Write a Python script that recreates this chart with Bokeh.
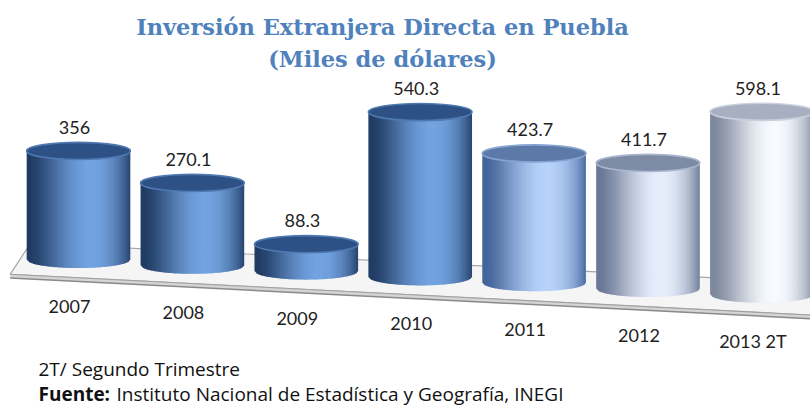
import math
from bokeh.plotting import figure
from bokeh.models import Range1d, Label, ColumnDataSource
from bokeh.core.properties import value
from bokeh.embed import file_html
from bokeh.resources import INLINE

# ---------------- data ----------------
categories = ["2007", "2008", "2009", "2010", "2011", "2012", "2013 2T"]
values = [356, 270.1, 88.3, 540.3, 423.7, 411.7, 598.1]
value_labels = ["356", "270.1", "88.3", "540.3", "423.7", "411.7", "598.1"]
title_line1 = "Inversión Extranjera Directa en Puebla"
title_line2 = "(Miles de dólares)"
note_line = "2T/ Segundo Trimestre"
source_bold = "Fuente:"
source_text = "Instituto Nacional de Estadística y Geografía, INEGI"

# ---------------- styles ----------------
dark_cols = ["#203c64", "#203c64", "#203c64", "#203c64", "#45659a", "#6a7895", "#7f899d"]
light_cols = ["#72a2e0", "#72a2e0", "#72a2e0", "#72a2e0", "#b6d2fa", "#e6eefc", "#f7faff"]
top_cols = ["#2d5184", "#2d5184", "#2d5184", "#2d5184", "#5c79a8", "#7e8ba5", "#a7afc0"]
rim_cols = ["#4f79b2", "#4f79b2", "#4f79b2", "#4f79b2", "#86a3d2", "#a9b6cf", "#c9d0dc"]

W, H = 810, 405
X0_PX, PX_PER_CAT = 78.0, 113.9      # layout of the category axis
Y0_PX, PX_PER_UNIT = 259.0, 0.305     # layout of the value axis
SLOPE = 19.0                          # perspective drop of the floor per category (value units)
CYL_W = 0.91                          # cylinder width, category units
ELL_H = 56.0                          # ellipse height, value units
N_STRIPS = 48
TXT_SHIFT = 7                         # px correction for text baseline

x_start = -X0_PX / PX_PER_CAT
x_end = (W - X0_PX) / PX_PER_CAT
y_end = Y0_PX / PX_PER_UNIT
y_start = (Y0_PX - H) / PX_PER_UNIT


def px_x(px):
    return x_start + px / PX_PER_CAT


def px_y(py):
    return (Y0_PX - py) / PX_PER_UNIT


def base(x):
    return -SLOPE * x


def hex2rgb(h):
    h = h.lstrip("#")
    return [int(h[i:i + 2], 16) for i in (0, 2, 4)]


def mix(c1, c2, f):
    a, b = hex2rgb(c1), hex2rgb(c2)
    return "#%02x%02x%02x" % tuple(int(round(a[k] + (b[k] - a[k]) * f)) for k in range(3))


p = figure(width=W, height=H, output_backend="svg", toolbar_location=None,
           x_range=Range1d(x_start, x_end), y_range=Range1d(y_start, y_end),
           min_border=0, min_border_left=0, min_border_right=0,
           min_border_top=0, min_border_bottom=0)
p.axis.visible = False
p.grid.visible = False
p.outline_line_color = None
p.background_fill_color = "white"
p.border_fill_color = "white"

# ---------------- floor ----------------
fx_back_l, fx_front_l, fx_r = -0.42, -0.60, 6.8
back_off, front_off, slab = 46.0, -60.0, 12.0
floor_x = [fx_back_l, fx_r, fx_r, fx_front_l]
floor_y = [base(fx_back_l) + back_off, base(fx_r) + back_off,
           base(fx_r) + front_off, base(fx_front_l) + front_off]
p.patch(floor_x, floor_y, fill_color="#f5f5f5", line_color="#a6a6a6", line_width=1.2)
slab_x = [fx_front_l, fx_r, fx_r, fx_front_l]
slab_y = [base(fx_front_l) + front_off, base(fx_r) + front_off,
          base(fx_r) + front_off - slab, base(fx_front_l) + front_off - slab]
p.patch(slab_x, slab_y, fill_color="#d4d4d4", line_color=None)
p.line([fx_front_l, fx_r], [base(fx_front_l) + front_off - slab, base(fx_r) + front_off - slab],
       line_color="#8a8a8a", line_width=1.5)
p.line([fx_front_l, fx_r], [base(fx_front_l) + front_off, base(fx_r) + front_off],
       line_color="#a0a0a0", line_width=1)

# ---------------- cylinders ----------------
LIGHT_ANGLE = 0.25
for i, v in enumerate(values):
    b = base(i)
    left = i - CYL_W / 2
    xs, ys, cols = [], [], []
    sw = CYL_W / N_STRIPS

    def bot(xx, i=i, b=b):
        u = (xx - i) / (CYL_W / 2)
        u = max(-1.0, min(1.0, u))
        return b - ELL_H / 2 * math.sqrt(max(0.0, 1 - u * u))

    for k in range(N_STRIPS):
        xl = left + k * sw
        xr = min(left + CYL_W, xl + sw * 1.35)
        t_mid = (k + 0.5) / N_STRIPS
        u = 2 * t_mid - 1
        phi = math.asin(u)
        f = max(0.0, math.cos(phi - LIGHT_ANGLE)) ** 2.6
        cols.append(mix(dark_cols[i], light_cols[i], f))
        xs.append([xl, xr, xr, xl])
        ys.append([bot(xl), bot(xr), b + v, b + v])
    p.patches(xs, ys, fill_color=cols, line_color=None)
    p.ellipse(x=[i], y=[b + v], width=CYL_W, height=ELL_H,
              fill_color=top_cols[i], line_color=rim_cols[i], line_width=1.6)

# ---------------- value labels ----------------
lab_src = ColumnDataSource(dict(
    x=list(range(len(values))),
    y=[base(i) + v + ELL_H / 2 + (8 + TXT_SHIFT) / PX_PER_UNIT for i, v in enumerate(values)],
    t=value_labels))
p.text(x="x", y="y", text="t", source=lab_src, text_align="center",
       text_baseline="alphabetic", text_font=value("Lato"), text_font_size="18px",
       text_color="#222222", x_offset=-4)

cat_src = ColumnDataSource(dict(
    x=list(range(len(categories))),
    y=[base(i) - (54 - TXT_SHIFT) / PX_PER_UNIT for i in range(len(categories))],
    t=categories))
p.text(x="x", y="y", text="t", source=cat_src, text_align="center",
       text_baseline="alphabetic", text_font=value("Lato"), text_font_size="18px",
       text_color="#222222", x_offset=-9)

# ---------------- titles / notes ----------------
for txt, py in ((title_line1, 33), (title_line2, 65)):
    p.add_layout(Label(x=px_x(382), y=px_y(py - TXT_SHIFT), text=txt, text_align="center",
                       text_baseline="alphabetic", text_font="DejaVu Serif",
                       text_font_style="bold", text_font_size="22.5px",
                       text_color="#4f81bd"))

p.add_layout(Label(x=px_x(38), y=px_y(375 - TXT_SHIFT), text=note_line, text_baseline="alphabetic",
                   text_font="Open Sans", text_font_size="19px", text_color="#111111"))
p.add_layout(Label(x=px_x(38), y=px_y(400 - TXT_SHIFT), text=source_bold, text_baseline="alphabetic",
                   text_font="Open Sans", text_font_style="bold", text_font_size="19px",
                   text_color="#111111"))
p.add_layout(Label(x=px_x(116), y=px_y(400 - TXT_SHIFT), text=source_text, text_baseline="alphabetic",
                   text_font="Open Sans", text_font_size="19px", text_color="#111111"))

open("out.html", "w").write(file_html(p, INLINE))
